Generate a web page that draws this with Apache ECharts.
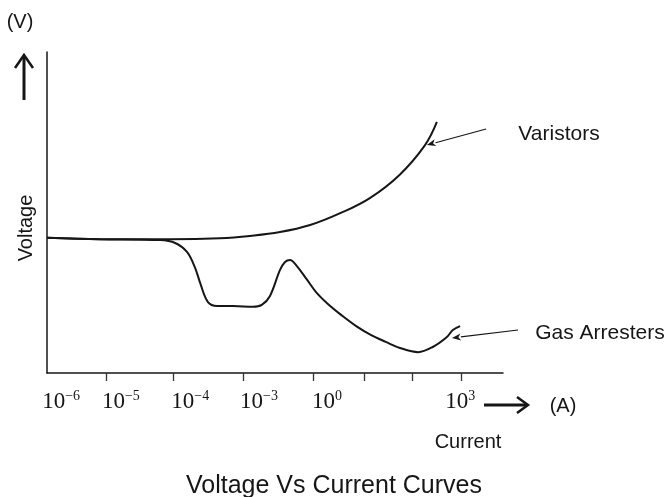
<!DOCTYPE html>
<html><head><meta charset="utf-8">
<script src="https://cdn.jsdelivr.net/npm/echarts@6/dist/echarts.min.js"></script>
<style>html,body{margin:0;padding:0;background:#fff}#c{width:668px;height:497px}</style>
</head><body><div id="c"></div>
<script>
// x in relative axis units (0..100 along the current axis), y in relative voltage units (0..100)
const varistorX = [0, 11.6, 27.0, 37.9, 44.5, 51.1, 57.7, 64.3, 70.8, 77.3, 82.9, 85.5];
const varistorV = [42.1, 41.7, 41.7, 42.0, 42.7, 43.9, 46.1, 49.8, 54.5, 61.7, 71.0, 78.2];
const gasX = [0, 11.6, 24.8, 28.1, 30.7, 32.5, 33.6, 35.3, 37.3, 40.8, 45.2, 47.1, 48.9, 51.1, 52.2, 53.3, 54.8, 56.9, 59.0, 61.6, 64.5, 67.8, 71.1, 74.3, 77.4, 81.4, 84.6, 87.7, 89.0, 90.6];
const gasV = [42.1, 41.7, 41.4, 40.5, 37.7, 32.7, 28.0, 22.1, 20.9, 20.9, 20.6, 21.2, 24.0, 32.1, 34.6, 35.2, 33.3, 29.3, 25.2, 21.5, 18.1, 14.6, 11.8, 9.7, 7.8, 6.5, 8.1, 11.2, 13.4, 14.6];
const tickPositions = [12.9, 27.6, 43.0, 58.3, 69.5, 80.0, 90.8];
const labelPositions = [3.1, 16.2, 31.4, 46.5, 61.4, 90.6];
const labelExponents = ['\u22126', '\u22125', '\u22124', '\u22123', '0', '3'];
const seriesNames = ['Varistors', 'Gas Arresters'];
const varistorArrow = [[96.3, 76.0], [83.3, 71.0]];
const gasArrow = [[103.3, 13.4], [88.8, 10.9]];

const chart = echarts.init(document.getElementById('c'), null, {renderer: 'canvas'});
const sans = 'Liberation Sans, Arial, Helvetica, sans-serif';
const serif = 'Liberation Serif, Times New Roman, serif';
const ink = '#161616';

function pairs(xs, ys) { return xs.map((x, i) => [x, ys[i]]); }

const baseGraphic = [
  {type: 'text', x: 20, y: 22, style: {text: '(V)', font: '20px ' + sans, fill: ink, align: 'center', verticalAlign: 'middle'}},
  {type: 'text', x: 26, y: 228, rotation: Math.PI / 2, style: {text: 'Voltage', font: '20px ' + sans, fill: ink, align: 'center', verticalAlign: 'middle'}},
  {type: 'text', x: 559, y: 134, style: {text: seriesNames[0], font: '21px ' + sans, fill: ink, align: 'center', verticalAlign: 'middle'}},
  {type: 'text', x: 600, y: 333, style: {text: seriesNames[1], font: '21px ' + sans, fill: ink, align: 'center', verticalAlign: 'middle'}},
  {type: 'text', x: 468, y: 442, style: {text: 'Current', font: '20px ' + sans, fill: ink, align: 'center', verticalAlign: 'middle'}},
  {type: 'text', x: 563, y: 406, style: {text: '(A)', font: '20px ' + sans, fill: ink, align: 'center', verticalAlign: 'middle'}},
  {type: 'line', shape: {x1: 24, y1: 100, x2: 24, y2: 56}, style: {stroke: ink, lineWidth: 3}},
  {type: 'polyline', shape: {points: [[15, 68], [24, 55], [33, 68]]}, style: {stroke: ink, lineWidth: 2.5, fill: null}},
  {type: 'line', shape: {x1: 484, y1: 405, x2: 526, y2: 405}, style: {stroke: ink, lineWidth: 3}},
  {type: 'polyline', shape: {points: [[517, 397], [528, 405], [517, 413]]}, style: {stroke: ink, lineWidth: 2.5, fill: null}}
];

const option = {
  animation: false,
  backgroundColor: '#fff',
  title: {
    text: 'Voltage Vs Current Curves',
    left: 'center', top: 469,
    textStyle: {fontFamily: sans, fontSize: 25, fontWeight: 'normal', color: ink}
  },
  grid: {left: 47, top: 52, width: 456, height: 321, containLabel: false},
  xAxis: {
    type: 'value', min: 0, max: 100,
    axisLine: {show: true, onZero: false, lineStyle: {color: ink, width: 1.5}},
    axisTick: {show: true, inside: false, length: 8, customValues: tickPositions, lineStyle: {color: '#333', width: 1.3}},
    splitLine: {show: false},
    axisLabel: {
      show: true, margin: 16, customValues: labelPositions,
      formatter: function (val) {
        let i = 0, best = Infinity;
        labelPositions.forEach((p, k) => { const d = Math.abs(p - val); if (d < best) { best = d; i = k; } });
        return '{b|10}{s|' + labelExponents[i] + '}';
      },
      rich: {
        b: {fontFamily: serif, fontSize: 23, color: ink, lineHeight: 24, verticalAlign: 'bottom'},
        s: {fontFamily: serif, fontSize: 14, color: ink, lineHeight: 16, verticalAlign: 'top'}
      }
    }
  },
  yAxis: {
    type: 'value', min: 0, max: 100,
    axisLine: {show: true, onZero: false, lineStyle: {color: ink, width: 1.5}},
    axisTick: {show: false}, axisLabel: {show: false}, splitLine: {show: false}
  },
  series: [
    {
      name: seriesNames[0], type: 'line', smooth: 0.4, showSymbol: false, symbol: 'none',
      data: pairs(varistorX, varistorV),
      lineStyle: {color: ink, width: 2}
    },
    {
      name: seriesNames[1], type: 'line', smooth: 0.35, showSymbol: false, symbol: 'none',
      data: pairs(gasX, gasV),
      lineStyle: {color: ink, width: 2}
    }
  ],
  graphic: baseGraphic
};
chart.setOption(option);

function arrowGraphics(a) {
  const p0 = chart.convertToPixel({gridIndex: 0}, a[0]);
  const p1 = chart.convertToPixel({gridIndex: 0}, a[1]);
  const dx = p1[0] - p0[0], dy = p1[1] - p0[1];
  const len = Math.sqrt(dx * dx + dy * dy);
  const ux = dx / len, uy = dy / len;
  const hl = 9, hw = 3.5;
  const bx = p1[0] - ux * hl, by = p1[1] - uy * hl;
  return [
    {type: 'line', shape: {x1: p0[0], y1: p0[1], x2: bx, y2: by}, style: {stroke: ink, lineWidth: 1.2}},
    {type: 'polygon', shape: {points: [[p1[0], p1[1]], [bx - uy * hw, by + ux * hw], [bx + ux * 2.5, by + uy * 2.5], [bx + uy * hw, by - ux * hw]]}, style: {fill: ink}}
  ];
}
chart.setOption({graphic: baseGraphic.concat(arrowGraphics(varistorArrow), arrowGraphics(gasArrow))}, {replaceMerge: ['graphic']});
</script>
</body></html>
